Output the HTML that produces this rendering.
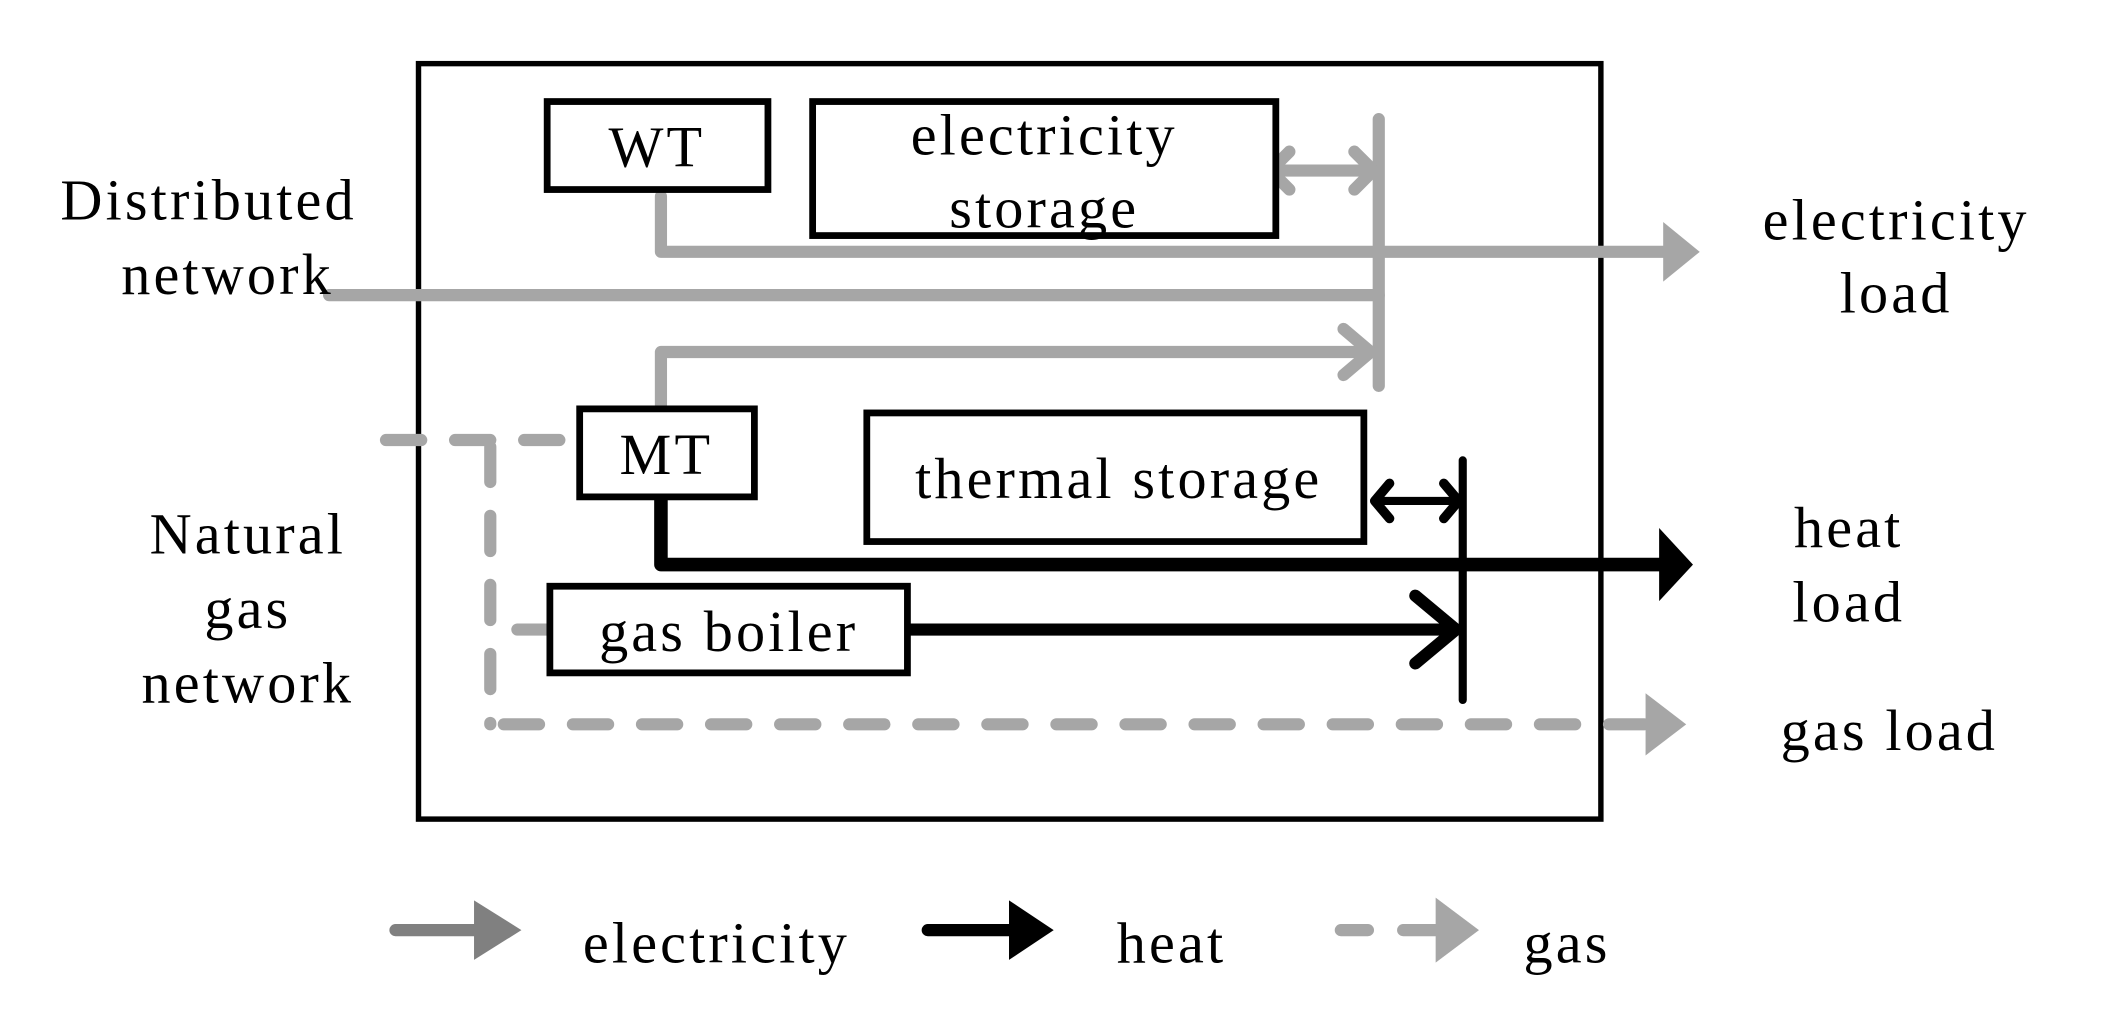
<!DOCTYPE html>
<html><head><meta charset="utf-8"><style>
html,body{margin:0;padding:0;background:#fff;}
svg{display:block;}
text{font-family:"Liberation Serif",serif;font-size:43px;letter-spacing:2.3px;fill:#000;}
</style></head><body>
<svg width="2102" height="1010" viewBox="0 0 1552 746" preserveAspectRatio="none" xmlns="http://www.w3.org/2000/svg">
<rect x="0" y="0" width="1552" height="746" fill="#fff"/>
<rect x="309" y="47" width="873" height="558" fill="none" stroke="#000" stroke-width="4"/>
<g stroke="#a6a6a6" stroke-width="9" fill="none" stroke-linecap="round" stroke-linejoin="round">
<line x1="1018" y1="88" x2="1018" y2="285"/>
<line x1="940" y1="126" x2="1014" y2="126"/>
<polyline points="952,112 938,126 952,140"/>
<polyline points="1000,112 1014,126 1000,140"/>
<polyline points="488,145 488,186 1228,186"/>
<line x1="243" y1="218" x2="1018" y2="218"/>
<polyline points="488,300 488,260 1012,260"/>
<polyline points="992,243 1012,260 992,277"/>
</g>
<polygon points="1228,164 1255,186 1228,208" fill="#a6a6a6"/>
<g stroke="#a6a6a6" stroke-width="9" fill="none" stroke-linecap="round" stroke-dasharray="26 25">
<line x1="285" y1="325" x2="420" y2="325"/>
<line x1="362" y1="330" x2="362" y2="535"/>
<line x1="372" y1="535" x2="1215" y2="535"/>
<line x1="382" y1="465" x2="404" y2="465" stroke-dasharray="none"/>
</g>
<polygon points="1215,512 1245,535 1215,558" fill="#a6a6a6"/>
<g stroke="#000" fill="none" stroke-linecap="round" stroke-linejoin="round">
<line x1="1080" y1="340" x2="1080" y2="517" stroke-width="6"/>
<line x1="1015" y1="370" x2="1077" y2="370" stroke-width="6"/>
<polyline points="1026,357 1015,370 1026,383" stroke-width="7"/>
<polyline points="1066,357 1077,370 1066,383" stroke-width="7"/>
<polyline points="488,368 488,417 1225,417" stroke-width="10"/>
<line x1="670" y1="465" x2="1075" y2="465" stroke-width="9"/>
<polyline points="1045,440 1075,465 1045,490" stroke-width="9"/>
</g>
<polygon points="1225,390 1250,417 1225,444" fill="#000"/>
<g fill="#fff" stroke="#000" stroke-width="5">
<rect x="404" y="75" width="163" height="65"/>
<rect x="600" y="75" width="342" height="99"/>
<rect x="428" y="302" width="129" height="65"/>
<rect x="640" y="305" width="367" height="95"/>
<rect x="406" y="433" width="264" height="64"/>
</g>
<text x="485" y="123" text-anchor="middle">WT</text>
<text x="771" y="114" text-anchor="middle">electricity</text>
<text x="771" y="168" text-anchor="middle">storage</text>
<text x="492" y="350" text-anchor="middle">MT</text>
<text x="826" y="368" text-anchor="middle">thermal storage</text>
<text x="538" y="481" text-anchor="middle">gas boiler</text>
<text x="154" y="162" text-anchor="middle">Distributed</text>
<text x="168" y="217" text-anchor="middle">network</text>
<text x="183" y="409" text-anchor="middle">Natural</text>
<text x="183" y="464" text-anchor="middle">gas</text>
<text x="183" y="519" text-anchor="middle">network</text>
<text x="1400" y="177" text-anchor="middle">electricity</text>
<text x="1400" y="231" text-anchor="middle">load</text>
<text x="1365" y="404" text-anchor="middle">heat</text>
<text x="1365" y="459" text-anchor="middle">load</text>
<text x="1395" y="554" text-anchor="middle">gas load</text>
<line x1="292" y1="687" x2="350" y2="687" stroke="#808080" stroke-width="9" stroke-linecap="round"/>
<polygon points="350,665 385,687 350,709" fill="#808080"/>
<text x="529" y="711" text-anchor="middle">electricity</text>
<line x1="685" y1="687" x2="745" y2="687" stroke="#000" stroke-width="9" stroke-linecap="round"/>
<polygon points="745,665 778,687 745,709" fill="#000"/>
<text x="865" y="711" text-anchor="middle">heat</text>
<g stroke="#a6a6a6" stroke-width="9" stroke-linecap="round">
<line x1="990" y1="687" x2="1010" y2="687"/>
<line x1="1036" y1="687" x2="1060" y2="687"/>
</g>
<polygon points="1060,663 1092,687 1060,711" fill="#a6a6a6"/>
<text x="1157" y="711" text-anchor="middle">gas</text>
</svg>
</body></html>
